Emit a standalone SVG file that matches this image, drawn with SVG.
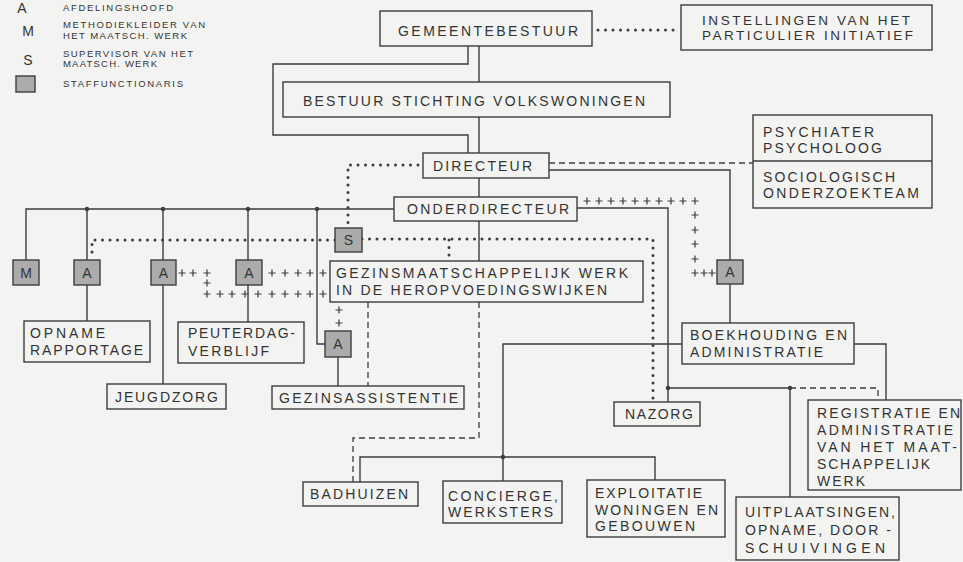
<svg xmlns="http://www.w3.org/2000/svg" width="963" height="562" viewBox="0 0 963 562">
<style>
.bg{fill:#f3f3f1}
.bx{fill:none;stroke:#3c3c3c;stroke-width:1.4}
.st{fill:#ababab;stroke:#3c3c3c;stroke-width:1.4}
.t{font-family:"Liberation Sans",Arial,sans-serif;font-size:14px;fill:#333}
.lg{font-size:9.5px}
.big{font-size:14px}
.sm{font-size:13.5px}
.ln{fill:none;stroke:#3c3c3c;stroke-width:1.4}
.dot{fill:none;stroke:#3c3c3c;stroke-width:3;stroke-linecap:round;stroke-dasharray:0 7.5}
.dash{fill:none;stroke:#3c3c3c;stroke-width:1.3;stroke-dasharray:6 4}
.plus{fill:none;stroke:none;marker-start:url(#p);marker-mid:url(#p);marker-end:url(#p)}
.jn{fill:#3c3c3c}
</style>
<defs>
<marker id="p" markerWidth="8" markerHeight="8" refX="4" refY="4" markerUnits="userSpaceOnUse" overflow="visible"><path d="M0.5 4H7.5M4 0.5V7.5" stroke="#3c3c3c" stroke-width="1.2" fill="none"/></marker>
</defs>
<rect class="bg" x="0" y="0" width="963" height="562"/>

<g id="legend">
<text class="t big" x="22" y="13" text-anchor="middle">A</text>
<text class="t lg" x="63" y="11" textLength="110" lengthAdjust="spacing">AFDELINGSHOOFD</text>
<text class="t big" x="28" y="36" text-anchor="middle">M</text>
<text class="t lg" x="63" y="28" textLength="142" lengthAdjust="spacing">METHODIEKLEIDER VAN</text>
<text class="t lg" x="63" y="38.5" textLength="124" lengthAdjust="spacing">HET MAATSCH. WERK</text>
<text class="t big" x="28" y="65" text-anchor="middle">S</text>
<text class="t lg" x="63" y="56.5" textLength="130" lengthAdjust="spacing">SUPERVISOR VAN HET</text>
<text class="t lg" x="63" y="67" textLength="94" lengthAdjust="spacing">MAATSCH. WERK</text>
<rect class="st" x="16" y="76" width="19" height="16"/>
<text class="t lg" x="63" y="87" textLength="120" lengthAdjust="spacing">STAFFUNCTIONARIS</text>
</g>

<g id="connectors">
<path class="ln" d="M468 46V64H273V135H468V153"/>
<path class="ln" d="M479 46V82"/>
<path class="ln" d="M479 117V153"/>
<path class="dot" d="M598 30H677"/>
<path class="ln" d="M479 178V197"/>
<path class="dash" d="M549 163H753"/>
<path class="ln" d="M549 170H730V260"/>
<path class="ln" d="M730 284V323"/>
<path class="ln" d="M394 209H26V260"/>
<path class="ln" d="M87 209V260M87 285V321"/>
<path class="ln" d="M163 209V260M163 285V384"/>
<path class="ln" d="M248 209V260M248 285V322"/>
<path class="ln" d="M317 209V344H325"/>
<path class="ln" d="M338 357V386"/>
<path class="ln" d="M479 221V261"/>
<path class="ln" d="M577 208H668V402"/>
<path class="ln" d="M668 388H790V497"/>
<path class="dash" d="M790 388H878V400"/>
<path class="ln" d="M854 344H886V400"/>
<path class="ln" d="M682 344H503V481"/>
<path class="ln" d="M360 482V457H655V480"/>
<path class="dash" d="M368 302V386"/>
<path class="dash" d="M479 302V438H353V482"/>
<path class="dot" d="M418 165H348V228"/>
<path class="dot" d="M335 240H92V258"/>
<path class="dot" d="M362 239H653V400"/>
<path class="dot" d="M449 240V258"/>
<polyline class="plus" points="587,201 599,201 611,201 623,201 635,201 647,201 659,201 671,201 683,201 695,201 695,215 695,230 695,244 695,259 695,273 704,273 712,273"/>
<polyline class="plus" points="182,273 193,273 207,273 207,283 207,294 220,294 232,294 245,294 258,294 272,294 285,294 298,294 310,294 323,294"/>
<polyline class="plus" points="272,273 285,273 298,273 310,273 323,273"/>
<polyline class="plus" points="339,310 339,323"/>
<circle class="jn" cx="87" cy="209" r="2.2"/>
<circle class="jn" cx="163" cy="209" r="2.2"/>
<circle class="jn" cx="248" cy="209" r="2.2"/>
<circle class="jn" cx="317" cy="209" r="2.2"/>
<circle class="jn" cx="668" cy="388" r="2.2"/>
<circle class="jn" cx="790" cy="388" r="2.2"/>
<circle class="jn" cx="503" cy="457" r="2.2"/>
</g>

<g id="gemeentebestuur">
<rect class="bx" x="380" y="11" width="212" height="35"/>
<text class="t" x="398" y="36" textLength="180" lengthAdjust="spacing">GEMEENTEBESTUUR</text>
</g>
<g id="instellingen">
<rect class="bx" x="681" y="5" width="251" height="45"/>
<text class="t sm" x="702" y="24.5" textLength="208" lengthAdjust="spacing">INSTELLINGEN VAN HET</text>
<text class="t sm" x="702" y="39.5" textLength="211" lengthAdjust="spacing">PARTICULIER INITIATIEF</text>
</g>
<g id="bestuur">
<rect class="bx" x="283" y="82" width="387" height="35"/>
<text class="t" x="303" y="106" textLength="342" lengthAdjust="spacing">BESTUUR STICHTING VOLKSWONINGEN</text>
</g>
<g id="directeur">
<rect class="bx" x="423" y="153" width="126" height="25"/>
<text class="t" x="433" y="171" textLength="99" lengthAdjust="spacing">DIRECTEUR</text>
</g>
<g id="psych">
<rect class="bx" x="753" y="115" width="179" height="93"/>
<path class="ln" d="M753 161H932"/>
<text class="t" x="763" y="137" textLength="111" lengthAdjust="spacing">PSYCHIATER</text>
<text class="t" x="763" y="153" textLength="119" lengthAdjust="spacing">PSYCHOLOOG</text>
<text class="t" x="763" y="182" textLength="132" lengthAdjust="spacing">SOCIOLOGISCH</text>
<text class="t" x="763" y="198" textLength="156" lengthAdjust="spacing">ONDERZOEKTEAM</text>
</g>
<g id="onderdirecteur">
<rect class="bx" x="394" y="197" width="183" height="24"/>
<text class="t" x="407" y="214" textLength="162" lengthAdjust="spacing">ONDERDIRECTEUR</text>
</g>
<g id="staff-m">
<rect class="st" x="13" y="260" width="26" height="25"/>
<text class="t" x="26" y="278" text-anchor="middle">M</text>
</g>
<g id="staff-a1">
<rect class="st" x="74" y="260" width="26" height="25"/>
<text class="t" x="87" y="278" text-anchor="middle">A</text>
</g>
<g id="staff-a2">
<rect class="st" x="151" y="260" width="25" height="25"/>
<text class="t" x="163.5" y="278" text-anchor="middle">A</text>
</g>
<g id="staff-a3">
<rect class="st" x="236" y="260" width="26" height="25"/>
<text class="t" x="249" y="278" text-anchor="middle">A</text>
</g>
<g id="staff-s">
<rect class="st" x="335" y="228" width="27" height="24"/>
<text class="t" x="348.5" y="245" text-anchor="middle">S</text>
</g>
<g id="staff-a4">
<rect class="st" x="325" y="331" width="26" height="26"/>
<text class="t" x="338" y="349" text-anchor="middle">A</text>
</g>
<g id="staff-a5">
<rect class="st" x="717" y="260" width="26" height="24"/>
<text class="t" x="730" y="277" text-anchor="middle">A</text>
</g>
<g id="gezinswerk">
<rect class="bx" x="330" y="261" width="313" height="41"/>
<text class="t" x="336" y="278" textLength="292" lengthAdjust="spacing">GEZINSMAATSCHAPPELIJK WERK</text>
<text class="t" x="336" y="295" textLength="271" lengthAdjust="spacing">IN DE HEROPVOEDINGSWIJKEN</text>
</g>
<g id="opname">
<rect class="bx" x="24" y="321" width="126" height="41"/>
<text class="t" x="30" y="338" textLength="75" lengthAdjust="spacing">OPNAME</text>
<text class="t" x="30" y="355" textLength="113" lengthAdjust="spacing">RAPPORTAGE</text>
</g>
<g id="peuterdag">
<rect class="bx" x="178" y="322" width="126" height="41"/>
<text class="t" x="188" y="338" textLength="107" lengthAdjust="spacing">PEUTERDAG-</text>
<text class="t" x="188" y="356" textLength="81" lengthAdjust="spacing">VERBLIJF</text>
</g>
<g id="jeugdzorg">
<rect class="bx" x="107" y="384" width="119" height="25"/>
<text class="t" x="115" y="402" textLength="103" lengthAdjust="spacing">JEUGDZORG</text>
</g>
<g id="gezinsassistentie">
<rect class="bx" x="272" y="386" width="192" height="23"/>
<text class="t" x="279" y="403" textLength="179" lengthAdjust="spacing">GEZINSASSISTENTIE</text>
</g>
<g id="boekhouding">
<rect class="bx" x="682" y="323" width="172" height="41"/>
<text class="t" x="690" y="340" textLength="157" lengthAdjust="spacing">BOEKHOUDING EN</text>
<text class="t" x="690" y="357" textLength="133" lengthAdjust="spacing">ADMINISTRATIE</text>
</g>
<g id="nazorg">
<rect class="bx" x="614" y="402" width="86" height="24"/>
<text class="t" x="625" y="419" textLength="68" lengthAdjust="spacing">NAZORG</text>
</g>
<g id="registratie">
<rect class="bx" x="808" y="400" width="153" height="90"/>
<text class="t" x="817" y="418" textLength="143" lengthAdjust="spacing">REGISTRATIE EN</text>
<text class="t" x="817" y="435" textLength="136" lengthAdjust="spacing">ADMINISTRATIE</text>
<text class="t" x="817" y="452" textLength="140" lengthAdjust="spacing">VAN HET MAAT-</text>
<text class="t" x="817" y="469" textLength="113" lengthAdjust="spacing">SCHAPPELIJK</text>
<text class="t" x="817" y="486" textLength="48" lengthAdjust="spacing">WERK</text>
</g>
<g id="uitplaatsingen">
<rect class="bx" x="736" y="497" width="163" height="63"/>
<text class="t" x="745" y="517" textLength="150" lengthAdjust="spacing">UITPLAATSINGEN,</text>
<text class="t" x="745" y="535" textLength="146" lengthAdjust="spacing">OPNAME, DOOR -</text>
<text class="t" x="745" y="553" textLength="140" lengthAdjust="spacing">SCHUIVINGEN</text>
</g>
<g id="badhuizen">
<rect class="bx" x="303" y="482" width="115" height="24"/>
<text class="t" x="310" y="499" textLength="98" lengthAdjust="spacing">BADHUIZEN</text>
</g>
<g id="concierge">
<rect class="bx" x="443" y="481" width="119" height="42"/>
<text class="t" x="448" y="501" textLength="110" lengthAdjust="spacing">CONCIERGE,</text>
<text class="t" x="448" y="517" textLength="105" lengthAdjust="spacing">WERKSTERS</text>
</g>
<g id="exploitatie">
<rect class="bx" x="587" y="480" width="138" height="57"/>
<text class="t" x="595" y="498" textLength="107" lengthAdjust="spacing">EXPLOITATIE</text>
<text class="t" x="595" y="515" textLength="123" lengthAdjust="spacing">WONINGEN EN</text>
<text class="t" x="595" y="531" textLength="100" lengthAdjust="spacing">GEBOUWEN</text>
</g>
</svg>
